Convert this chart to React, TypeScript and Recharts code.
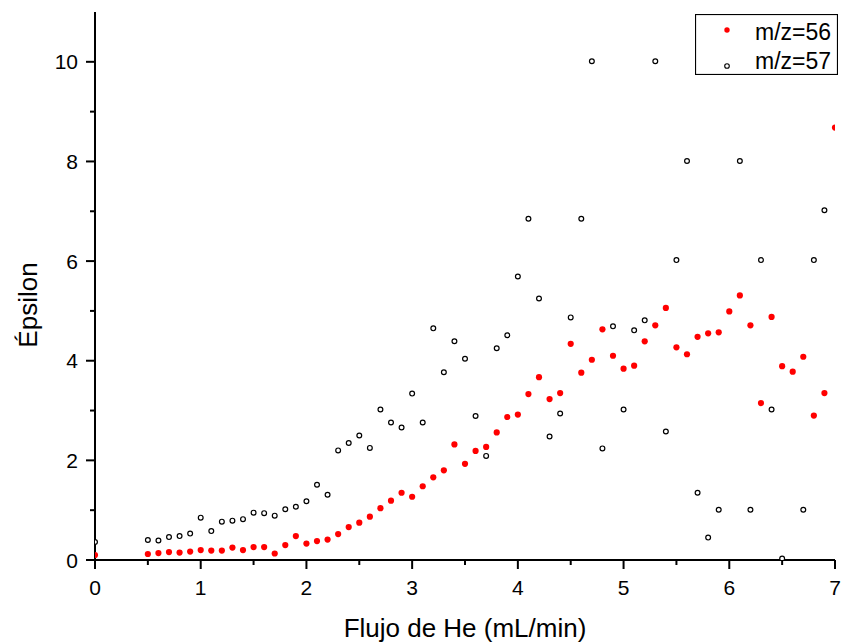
import React from 'react';
import { ScatterChart, Scatter, XAxis, YAxis, Legend } from 'recharts';

const flujo: number[] = [
  0, 0.5, 0.6, 0.7, 0.8, 0.9, 1.0, 1.1, 1.2, 1.3, 1.4, 1.5, 1.6, 1.7, 1.8, 1.9,
  2.0, 2.1, 2.2, 2.3, 2.4, 2.5, 2.6, 2.7, 2.8, 2.9, 3.0, 3.1, 3.2, 3.3, 3.4, 3.5,
  3.6, 3.7, 3.8, 3.9, 4.0, 4.1, 4.2, 4.3, 4.4, 4.5, 4.6, 4.7, 4.8, 4.9, 5.0, 5.1,
  5.2, 5.3, 5.4, 5.5, 5.6, 5.7, 5.8, 5.9, 6.0, 6.1, 6.2, 6.3, 6.4, 6.5, 6.6, 6.7,
  6.8, 6.9, 7.0,
];

const mz56: number[] = [
  0.10, 0.12, 0.14, 0.16, 0.15, 0.17, 0.20, 0.19, 0.19, 0.25, 0.20, 0.26, 0.26, 0.13, 0.30, 0.48,
  0.33, 0.38, 0.41, 0.52, 0.66, 0.75, 0.87, 1.04, 1.19, 1.35, 1.27, 1.48, 1.66, 1.80, 2.32, 1.93,
  2.19, 2.27, 2.56, 2.87, 2.92, 3.33, 3.67, 3.23, 3.35, 4.34, 3.76, 4.02, 4.63, 4.10, 3.84, 3.90,
  4.39, 4.71, 5.06, 4.27, 4.13, 4.48, 4.55, 4.57, 4.99, 5.31, 4.71, 3.15, 4.88, 3.89, 3.78, 4.08,
  2.90, 3.35, 8.68,
];

const mz57: (number | null)[] = [
  0.36, 0.40, 0.39, 0.46, 0.48, 0.53, 0.85, 0.58, 0.77, 0.79, 0.82, 0.95, 0.94, 0.89, 1.02, 1.07,
  1.18, 1.51, 1.31, 2.20, 2.35, 2.50, 2.25, 3.02, 2.76, 2.66, 3.34, 2.76, 4.65, 3.77, 4.39, 4.04,
  2.89, 2.09, 4.25, 4.51, 5.69, 6.85, 5.25, 2.48, 2.94, 4.87, 6.85, 10.01, 2.24, 4.69, 3.02, 4.61,
  4.81, 10.01, 2.58, 6.02, 8.01, 1.35, 0.45, 1.01, null, 8.01, 1.01, 6.02, 3.02, 0.03, null, 1.01,
  6.02, 7.02, null,
];

const xTicks: number[] = [0, 0.5, 1, 1.5, 2, 2.5, 3, 3.5, 4, 4.5, 5, 5.5, 6, 6.5, 7];
const yTicks: number[] = [0, 1, 2, 3, 4, 5, 6, 7, 8, 9, 10];

const seriesNames = ['m/z=56', 'm/z=57'];

const data56 = flujo.map((x, i) => ({ x, y: mz56[i] }));
const data57 = flujo
  .map((x, i) => ({ x, y: mz57[i] }))
  .filter((d) => d.y !== null);

const FONT = '"Liberation Sans", Arial, sans-serif';

const XTick = (props: any) => {
  const { x, y, payload } = props;
  const v = payload.value;
  const major = Math.abs(v - Math.round(v)) < 1e-6;
  return (
    <g>
      <line x1={x} x2={x} y1={y} y2={y + (major ? 9 : 5)} stroke="#000" strokeWidth={2} />
      {major && (
        <text x={x} y={y + 35} textAnchor="middle" fontFamily={FONT} fontSize={21} fill="#000">
          {v}
        </text>
      )}
    </g>
  );
};

const YTick = (props: any) => {
  const { x, y, payload } = props;
  const v = payload.value;
  const major = v % 2 === 0;
  return (
    <g>
      <line x1={x} x2={x - (major ? 9 : 5)} y1={y} y2={y} stroke="#000" strokeWidth={2} />
      {major && (
        <text x={x - 17} y={y + 7.5} textAnchor="end" fontFamily={FONT} fontSize={21} fill="#000">
          {v}
        </text>
      )}
    </g>
  );
};

const RedDot = (p: any) => <circle cx={p.cx} cy={p.cy} r={3.1} fill="#ff0000" />;
const OpenDot = (p: any) => (
  <circle cx={p.cx} cy={p.cy} r={2.4} fill="#fff" stroke="#000" strokeWidth={1.2} />
);

const LegendBox = () => (
  <svg width={143} height={61} style={{ display: 'block' }}>
    <rect x={0.5} y={0.5} width={142} height={60} fill="#fff" stroke="#000" strokeWidth={1.2} />
    <circle cx={32} cy={16} r={2.7} fill="#ff0000" />
    <text x={60} y={25.5} fontFamily={FONT} fontSize={23} fill="#000">{seriesNames[0]}</text>
    <circle cx={32} cy={52} r={2.3} fill="#fff" stroke="#000" strokeWidth={1.1} />
    <text x={60} y={54.5} fontFamily={FONT} fontSize={23} fill="#000">{seriesNames[1]}</text>
  </svg>
);

export default function App() {
  return (
    <div style={{ position: 'absolute', left: 0, top: 0, width: 842, height: 643, background: '#fff' }}>
      <ScatterChart width={842} height={643} margin={{ top: 12, right: 7, left: 0, bottom: 0 }}>
        <XAxis
          type="number"
          dataKey="x"
          domain={[0, 7]}
          ticks={xTicks}
          interval={0}
          height={83}
          tickSize={0}
          tickMargin={0}
          tickLine={false}
          tick={<XTick />}
          axisLine={{ stroke: '#000', strokeWidth: 2 }}
          allowDataOverflow
          label={{
            content: (lp: any) => {
              const vb = lp.viewBox || {};
              return (
                <text x={(vb.x ?? 95) + (vb.width ?? 740) / 2} y={637} textAnchor="middle" fontFamily={FONT} fontSize={26} fill="#000">
                  Flujo de He (mL/min)
                </text>
              );
            },
          }}
        />
        <YAxis
          type="number"
          dataKey="y"
          domain={[0, 11]}
          ticks={yTicks}
          interval={0}
          width={95}
          tickSize={0}
          tickMargin={0}
          tickLine={false}
          tick={<YTick />}
          axisLine={{ stroke: '#000', strokeWidth: 2 }}
          allowDataOverflow
          label={{
            content: () => (
              <text x={37} y={305} transform="rotate(-90 37 305)" textAnchor="middle" fontFamily={FONT} fontSize={26} fill="#000">
                Épsilon
              </text>
            ),
          }}
        />
        <Legend
          layout="vertical"
          align="center"
          verticalAlign="middle"
          content={() => <LegendBox />}
          wrapperStyle={{ position: 'absolute', left: 695, top: 14, width: 143, height: 61 }}
        />
        <Scatter name={seriesNames[1]} data={data57} shape={<OpenDot />} isAnimationActive={false} />
        <Scatter name={seriesNames[0]} data={data56} shape={<RedDot />} isAnimationActive={false} />
      </ScatterChart>
    </div>
  );
}
